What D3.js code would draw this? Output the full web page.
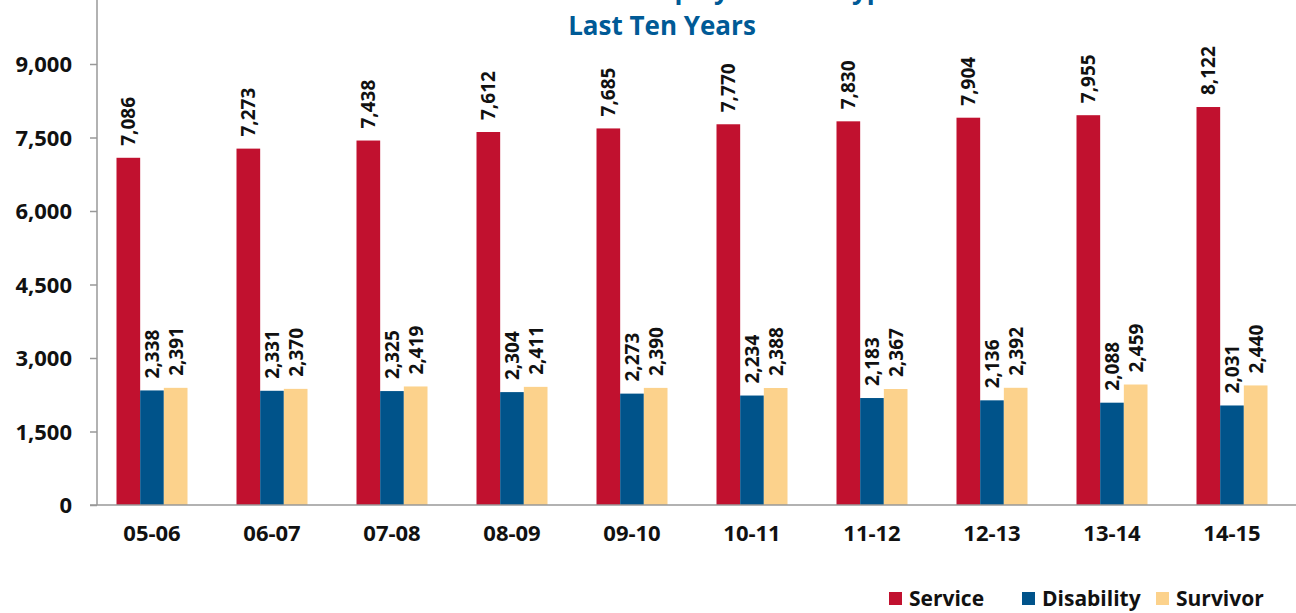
<!DOCTYPE html>
<html>
<head>
<meta charset="utf-8">
<script src="https://cdn.jsdelivr.net/npm/d3@7"></script>
<style>
  body { margin: 0; background: #fff; overflow: hidden; }
  text { font-family: "Open Sans", "DejaVu Sans", sans-serif; font-weight: bold; }
</style>
</head>
<body>
<div id="chart"></div>
<script>
// data
var years = ["05-06", "06-07", "07-08", "08-09", "09-10", "10-11", "11-12", "12-13", "13-14", "14-15"]
var service = [7086, 7273, 7438, 7612, 7685, 7770, 7830, 7904, 7955, 8122]
var disability = [2338, 2331, 2325, 2304, 2273, 2234, 2183, 2136, 2088, 2031]
var survivor = [2391, 2370, 2419, 2411, 2390, 2388, 2367, 2392, 2459, 2440]
var seriesNames = ["Service", "Disability", "Survivor"]
var yTicks = [0, 1500, 3000, 4500, 6000, 7500, 9000]

var width = 1296
var height = 613
var colors = ["#c1112f", "#00538a", "#fcd28c"]
var fmt = d3.format(",")

var svg = d3.select("#chart")
    .append("svg")
    .attr("width", width)
    .attr("height", height)

// build rows for each group
var rows = years.map(function (y, i) {
    return { year: y, values: [service[i], disability[i], survivor[i]] }
})

var x = d3.scaleBand()
    .domain(years)
    .range([92, 1292])

var x1 = d3.scaleBand()
    .domain(seriesNames)
    .range([x.bandwidth() / 2 - 35.5, x.bandwidth() / 2 + 35.5])

var y = d3.scaleLinear()
    .domain([0, 9000])
    .range([505, 64])

// title (its first line runs off the top of the frame, as in the original)
svg.append("text")
    .attr("x", 662)
    .attr("y", -1)
    .attr("text-anchor", "middle")
    .style("font-size", "26px")
    .style("fill", "#005a96")
    .text("Retired Membership by Benefit Type")
svg.append("text")
    .attr("x", 662)
    .attr("y", 35)
    .attr("text-anchor", "middle")
    .style("font-size", "26px")
    .style("fill", "#005a96")
    .text("Last Ten Years")

// y axis
var yAxis = svg.append("g")
    .attr("transform", "translate(97,0)")
    .call(d3.axisLeft(y).tickValues(yTicks).tickFormat(fmt).tickSize(7).tickPadding(18))
yAxis.select(".domain").remove()
yAxis.selectAll(".tick line").attr("stroke", "#999").attr("stroke-width", 1.5)
yAxis.selectAll(".tick text")
    .style("font-size", "22px")
    .style("fill", "#111")
    .attr("dy", "0.36em")
svg.append("line")
    .attr("x1", 97).attr("x2", 97)
    .attr("y1", 0).attr("y2", 505)
    .attr("stroke", "#999").attr("stroke-width", 1.5)

// bars
var groups = svg.selectAll("g.grp")
    .data(rows)
    .enter()
    .append("g")
    .attr("class", "grp")
    .attr("transform", function (d) { return "translate(" + x(d.year) + ",0)" })

groups.selectAll("rect")
    .data(function (d) { return d.values.map(function (v, k) { return { key: seriesNames[k], value: v, k: k } }) })
    .enter()
    .append("rect")
    .attr("x", function (d) { return x1(d.key) })
    .attr("width", x1.bandwidth())
    .attr("y", function (d) { return y(d.value) })
    .attr("height", function (d) { return y(0) - y(d.value) })
    .attr("fill", function (d) { return colors[d.k] })

// value labels, rotated
groups.selectAll("text.val")
    .data(function (d) { return d.values.map(function (v, k) { return { key: seriesNames[k], value: v } }) })
    .enter()
    .append("text")
    .attr("class", "val")
    .attr("transform", function (d) {
        return "translate(" + (x1(d.key) + x1.bandwidth() / 2 + 7) + "," + (y(d.value) - 12) + ") rotate(-90)"
    })
    .style("font-size", "19px")
    .style("fill", "#111")
    .text(function (d) { return fmt(d.value) })

// x axis
svg.append("line")
    .attr("x1", 90).attr("x2", width)
    .attr("y1", 505).attr("y2", 505)
    .attr("stroke", "#999").attr("stroke-width", 1.5)
svg.selectAll("text.cat")
    .data(years)
    .enter()
    .append("text")
    .attr("class", "cat")
    .attr("x", function (d) { return x(d) + x.bandwidth() / 2 })
    .attr("y", 541)
    .attr("text-anchor", "middle")
    .style("font-size", "22px")
    .style("fill", "#111")
    .text(function (d) { return d })

// legend
var legX = [889, 1022, 1156]
var legend = svg.selectAll("g.leg")
    .data(seriesNames)
    .enter()
    .append("g")
    .attr("class", "leg")
    .attr("transform", function (d, i) { return "translate(" + legX[i] + ",592)" })
legend.append("rect")
    .attr("width", 13).attr("height", 13)
    .attr("fill", function (d, i) { return colors[i] })
legend.append("text")
    .attr("x", 20)
    .attr("y", 14)
    .style("font-size", "21px")
    .style("fill", "#111")
    .text(function (d) { return d })
</script>
</body>
</html>
